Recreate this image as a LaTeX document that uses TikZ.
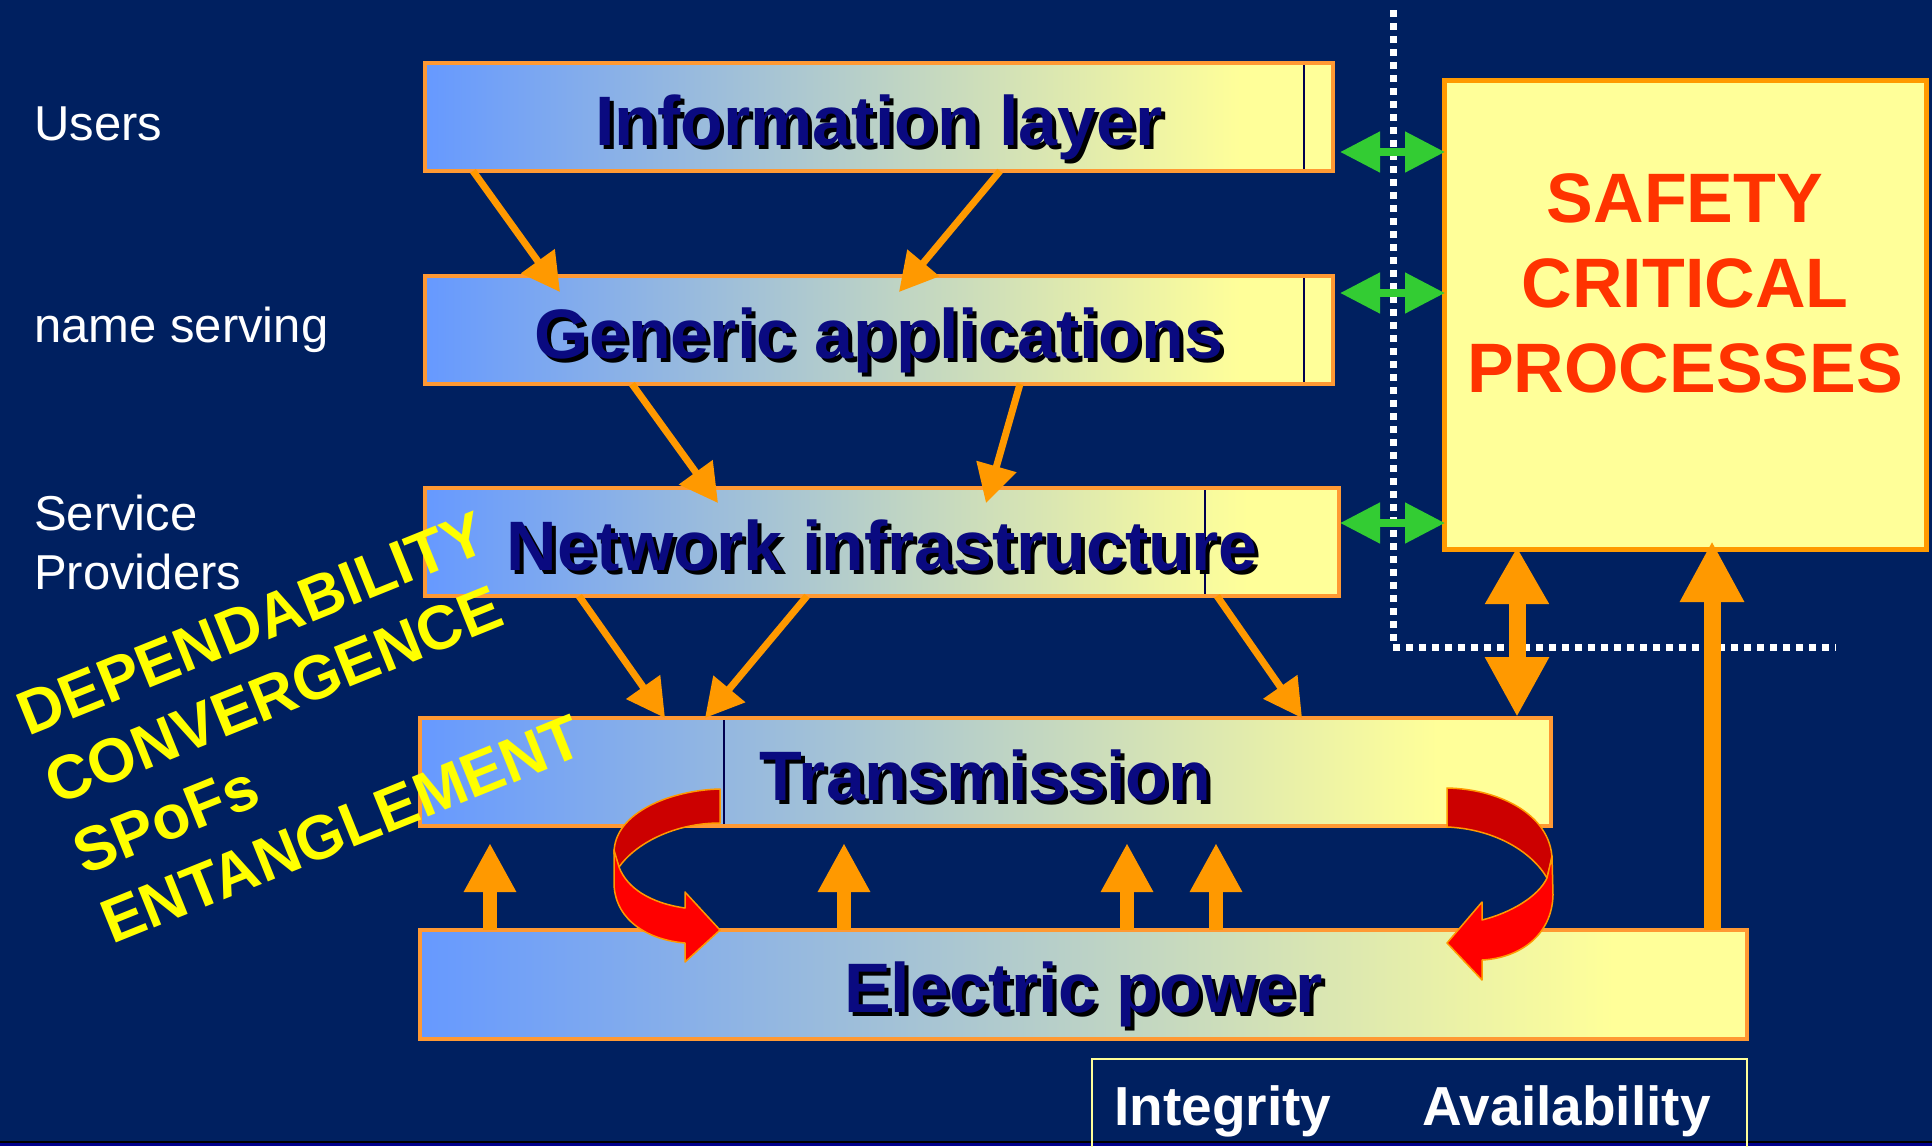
\documentclass[tikz,border=0pt]{standalone}
\usepackage{fontspec}
\setmainfont{Liberation Sans}
\usetikzlibrary{arrows.meta,calc}

\definecolor{bgnavy}{RGB}{0,32,96}
\definecolor{stripblue}{RGB}{0,0,140}
\definecolor{lb}{RGB}{102,153,255}
\definecolor{ly}{RGB}{255,255,153}
\definecolor{boxorange}{RGB}{255,153,51}
\definecolor{arrorange}{RGB}{255,153,0}
\definecolor{labelnavy}{RGB}{10,10,128}
\definecolor{safered}{RGB}{255,51,0}
\definecolor{darkred}{RGB}{204,0,0}
\definecolor{brightred}{RGB}{255,0,0}
\definecolor{linkgreen}{RGB}{51,204,51}
\definecolor{splitnavy}{RGB}{0,0,80}
\definecolor{buzzyellow}{RGB}{255,255,0}

% blue-to-yellow fill of the layer bars (path spans 25bp..75bp)
\pgfdeclarehorizontalshading{layershade}{100bp}{color(0bp)=(lb); color(25bp)=(lb); color(70bp)=(ly); color(100bp)=(ly)}

\tikzset{
  layerbox/.style={rectangle, shade, shading=layershade, draw=boxorange, line width=3.5pt,
    inner sep=0pt, outer sep=0pt, anchor=north west},
  safebox/.style={rectangle, fill=ly, draw=arrorange, line width=5pt,
    inner sep=0pt, outer sep=0pt, anchor=north west},
  splitline/.style={draw=splitnavy, line width=2pt},
  layertext/.style={anchor=base, inner sep=0pt, text=labelnavy,
    font=\fontsize{70}{84}\selectfont\bfseries},
  sidelabel/.style={anchor=base west, inner sep=0pt, text=white,
    font=\fontsize{49}{59}\selectfont},
  safetext/.style={anchor=base, inner sep=0pt, text=safered,
    font=\fontsize{70}{85}\selectfont\bfseries},
  buzz/.style={anchor=base west, inner sep=0pt, rotate=22, text=buzzyellow,
    font=\fontsize{62}{74}\selectfont\bfseries},
  quality/.style={anchor=base west, inner sep=0pt, text=white,
    font=\fontsize{55}{66}\selectfont\bfseries},
  thinarrow/.style={draw=arrorange, line width=7pt, -{Triangle[length=38pt,width=40pt]}},
  uparrow/.style={draw=arrorange, line width=14pt, -{Triangle[length=49pt,width=49pt]}},
  bigarrow/.style={draw=arrorange, line width=17pt},
  greenlink/.style={draw=linkgreen, line width=8pt,
    {Triangle[length=40pt,width=39pt]}-{Triangle[length=40pt,width=39pt]}},
  ribbonpart/.style={draw=arrorange, line width=1.5pt, line join=round},
}

% bar label with a dark drop shadow
\newcommand\shadowlabel[3]{%
  \node[layertext, text=black, xshift=4pt, yshift=-4pt] (#1-shadow) at (#2) {#3};
  \node[layertext] (#1) at (#2) {#3};}

\begin{document}
\begin{tikzpicture}[x=1pt, y=-1pt]
  \useasboundingbox (0,0) rectangle (1932,1146);
  \fill[bgnavy] (0,0) rectangle (1932,1146);
  \fill[black] (0,1140.5) rectangle (1932,1142.5);
  \fill[stripblue] (0,1142.5) rectangle (1932,1146);

  % dotted boundary around the safety domain
  \draw[white, line width=7pt, dash pattern=on 6.5pt off 6.5pt] (1393,10) -- (1393,647) -- (1836,647);

  % layer bars
  \node[layerbox, minimum width=908pt, minimum height=108pt] (info) at (425,63) {};
  \node[layerbox, minimum width=908pt, minimum height=108pt] (generic) at (425,276) {};
  \node[layerbox, minimum width=914pt, minimum height=108pt] (network) at (425,488) {};
  \node[layerbox, minimum width=1131pt, minimum height=108pt] (trans) at (420,718) {};
  \node[layerbox, minimum width=1327pt, minimum height=109pt] (power) at (420,930) {};

  \draw[splitline] ([xshift=879pt,yshift=-2pt]info.north west) -- ([xshift=879pt,yshift=2pt]info.south west);
  \draw[splitline] ([xshift=879pt,yshift=-2pt]generic.north west) -- ([xshift=879pt,yshift=2pt]generic.south west);
  \draw[splitline] ([xshift=780pt,yshift=-2pt]network.north west) -- ([xshift=780pt,yshift=2pt]network.south west);
  \draw[splitline] ([xshift=304pt,yshift=-2pt]trans.north west) -- ([xshift=304pt,yshift=2pt]trans.south west);

  \shadowlabel{infotext}{$(info.north)+(0,82)$}{Information layer}
  \shadowlabel{generictext}{$(generic.north)+(0,82)$}{Generic applications}
  \shadowlabel{networktext}{$(network.north)+(0,82)$}{Network infrastructure}
  \shadowlabel{transtext}{$(trans.north)+(0,82)$}{Transmission}
  \shadowlabel{powertext}{$(power.north)+(0,82)$}{Electric power}

  % safety critical processes
  \node[safebox, minimum width=482pt, minimum height=469pt] (safety) at (1444,80) {};
  \node[safetext] (saf1) at ($(safety.north)+(0,142)$) {SAFETY};
  \node[safetext] (saf2) at ($(safety.north)+(0,227)$) {CRITICAL};
  \node[safetext] (saf3) at ($(safety.north)+(0,312)$) {PROCESSES};

  % side labels
  \node[sidelabel] (users) at (34,140) {Users};
  \node[sidelabel] (naming) at (34,342) {name serving};
  \node[sidelabel] (service) at (34,530) {Service};
  \node[sidelabel] (providers) at (34,589) {Providers};

  % dependencies between layers
  \draw[thinarrow] ($(info.south west)+(48,0)$) -- ($(generic.north west)+(135,16)$);
  \draw[thinarrow] ($(info.south west)+(575,0)$) -- ($(generic.north west)+(474,16)$);
  \draw[thinarrow] ($(generic.south west)+(207,0)$) -- ($(network.north west)+(293,15)$);
  \draw[thinarrow] ($(generic.south west)+(595,0)$) -- ($(network.north west)+(561,15)$);
  \draw[thinarrow] ($(network.south west)+(154,0)$) -- ($(trans.north west)+(245,0)$);
  \draw[thinarrow] ($(network.south west)+(382,0)$) -- ($(trans.north west)+(285,0)$);
  \draw[thinarrow] ($(network.south west)+(792,0)$) -- ($(trans.north west)+(882,0)$);

  \draw[uparrow] ($(power.north west)+(70,0)$) -- ($(trans.south west)+(70,17)$);
  \draw[uparrow] ($(power.north west)+(424,0)$) -- ($(trans.south west)+(424,17)$);
  \draw[uparrow] ($(power.north west)+(707,0)$) -- ($(trans.south west)+(707,17)$);
  \draw[uparrow] ($(power.north west)+(796,0)$) -- ($(trans.south west)+(796,17)$);

  \draw[bigarrow, {Triangle[length=57pt,width=60pt]}-{Triangle[length=60pt,width=60pt]}]
    ($(safety.south west)+(73,-2)$) -- ($(trans.north west)+(1097,-1)$);
  \draw[bigarrow, -{Triangle[length=61pt,width=60pt]}]
    ($(power.north west)+(1292,0)$) -- ($(safety.south west)+(268,-8)$);

  % links into the safety domain
  \draw[greenlink] ($(info.north east)+(7,89)$) -- ($(safety.north west)+(1,72)$);
  \draw[greenlink] ($(generic.north east)+(7,17)$) -- ($(safety.north west)+(1,213)$);
  \draw[greenlink] ($(network.north east)+(1,35)$) -- ($(safety.north west)+(1,443)$);

  % twisted feedback arrows between transmission and power
  \draw[ribbonpart, fill=darkred] (720,789) .. controls (672,790) and (614,812) .. (614,853)
    -- (619,867) .. controls (636,843) and (675,823) .. (720,823) -- cycle;
  \draw[ribbonpart, fill=brightred] (614,850) -- (614,885) .. controls (616,922) and (650,940) .. (685,943)
    -- (685,962) -- (720,930) -- (685,892) -- (685,908)
    .. controls (650,903) and (627,888) .. (619,867) -- cycle;
  \draw[ribbonpart, fill=darkred] (1447,788) .. controls (1500,789) and (1550,815) .. (1552,858)
    -- (1547,878) .. controls (1532,852) and (1495,829) .. (1447,827) -- cycle;
  \draw[ribbonpart, fill=brightred] (1552,856) -- (1553,895) .. controls (1552,935) and (1520,958) .. (1482,960)
    -- (1482,980) -- (1447,943) -- (1482,902) -- (1482,920)
    .. controls (1510,913) and (1538,897) .. (1547,878) -- cycle;

  % slanted keywords
  \node[buzz] (kw1) at (28,737) {DEPENDABILITY};
  \node[buzz] (kw2) at (56,806) {CONVERGENCE};
  \node[buzz] (kw3) at (84,876) {SPoFs};
  \node[buzz] (kw4) at (112,945) {ENTANGLEMENT};

  % integrity / availability panel
  \node[draw=ly, line width=2.5pt, rectangle, inner sep=0pt, outer sep=0pt, anchor=north west,
        minimum width=655pt, minimum height=110pt] (qualbox) at (1092,1059) {};
  \node[quality] (integrity) at (1114,1125) {Integrity};
  \node[quality] (availability) at (1422,1125) {Availability};
\end{tikzpicture}
\end{document}
